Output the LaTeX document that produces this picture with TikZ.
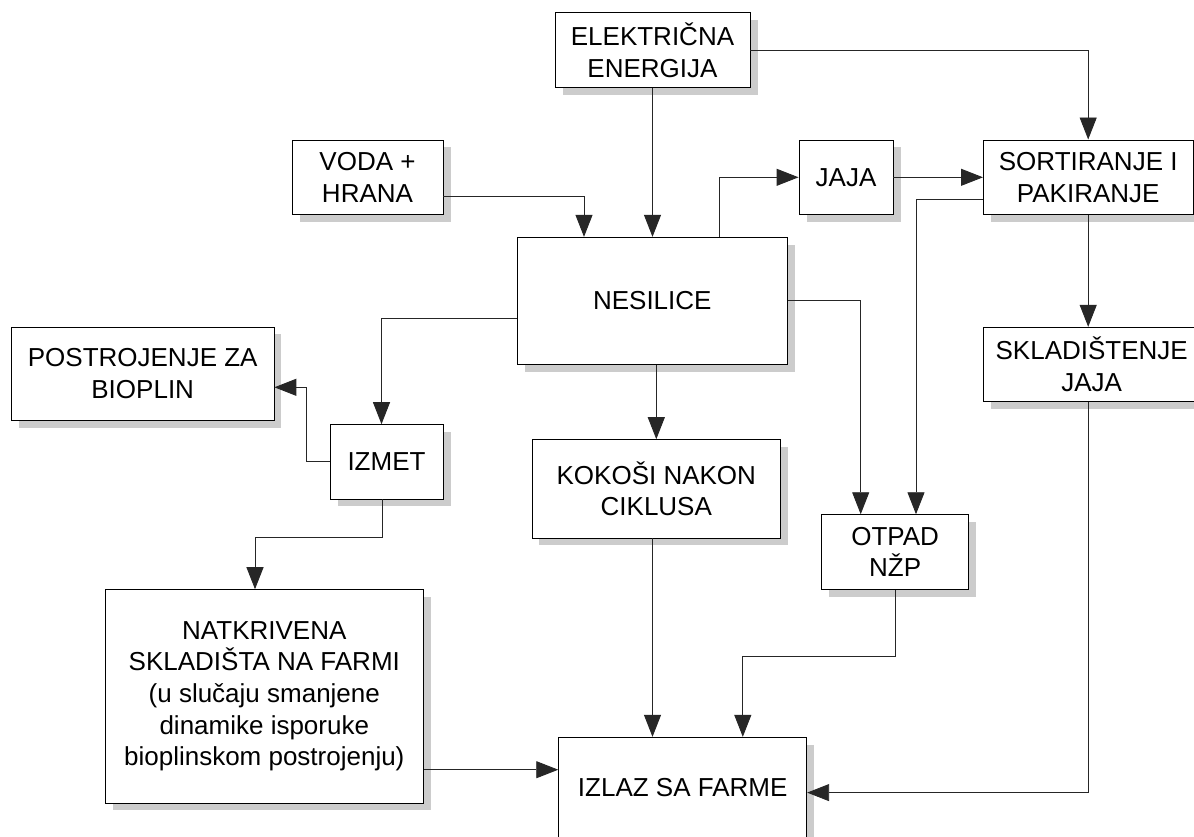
\documentclass[tikz,border=0pt]{standalone}
\usepackage{fontspec}
\setmainfont{Liberation Sans}
\usetikzlibrary{arrows.meta,shadows}
\newcommand{\boxfont}{\fontsize{26}{31.7}\selectfont}
\tikzset{
  blk/.style={draw=black, fill=white, line width=0.9pt, align=center, inner sep=0pt,
    font=\boxfont,
    drop shadow={shadow xshift=7.5pt, shadow yshift=-7.5pt, fill=black!20, opacity=1}},
  arr/.style={draw=black!85, line width=0.9pt, -{Triangle[length=22pt,width=17pt]}},
  ln/.style={draw=black!85, line width=0.9pt}
}
\begin{document}
\begin{tikzpicture}[x=1pt,y=1pt]
\clip (0,0) rectangle (1194,-836);
\fill[white] (0,0) rectangle (1194,-836);
% nodes
\node[blk, minimum width=195pt, minimum height=74.6pt] (elek) at (652.5,-50) {ELEKTRIČNA\\ENERGIJA};
\node[blk, minimum width=151pt, minimum height=74.7pt] (voda) at (367.5,-177.3) {VODA +\\HRANA};
\node[blk, minimum width=94pt, minimum height=74.7pt] (jaja) at (846,-177.3) {JAJA};
\node[blk, minimum width=209.5pt, minimum height=74.7pt] (sort) at (1088.2,-177.3) {SORTIRANJE I\\PAKIRANJE};
\node[blk, minimum width=270.6pt, minimum height=127pt] (nes) at (652.3,-300.8) {NESILICE};
\node[blk, minimum width=262.5pt, minimum height=93.7pt] (post) at (142.7,-373.8) {POSTROJENJE ZA\\BIOPLIN};
\node[blk, minimum width=216.5pt, minimum height=74.4pt] (sklad) at (1091.7,-364.5) {SKLADIŠTENJE\\JAJA};
\node[blk, minimum width=113pt, minimum height=74.3pt] (izmet) at (386.5,-461.8) {IZMET};
\node[blk, minimum width=248.7pt, minimum height=98.3pt] (kok) at (656.3,-488.8) {KOKOŠI NAKON\\CIKLUSA};
\node[blk, minimum width=147pt, minimum height=74.6pt] (otpad) at (895.1,-552) {OTPAD\\NŽP};
\node[blk, minimum width=318.6pt, minimum height=213.3pt] (natkr) at (264.3,-696.3) {NATKRIVENA\\SKLADIŠTA NA FARMI\\(u slučaju smanjene\\dinamike isporuke\\bioplinskom postrojenju)};
\node[blk, minimum width=248pt, minimum height=100pt] (izlaz) at (682.7,-787.3) {IZLAZ SA FARME};
% connectors
\draw[arr] (elek.south) -- (elek.south |- nes.north);
\draw[arr] (elek.east) -| (sort.north);
\draw[arr] ([yshift=-18.7pt]voda.east) -| ([xshift=-68.3pt]nes.north);
\draw[arr] ([xshift=67.2pt]nes.north) |- (jaja.west);
\draw[arr] (jaja.east) -- (sort.west);
\draw[arr] ([yshift=-22pt]sort.west) -| ([xshift=20.9pt]otpad.north);
\draw[arr] (sort.south) -- (sort.south |- sklad.north);
\draw[arr] (nes.east) -| ([xshift=-34.4pt]otpad.north);
\draw[arr] ([yshift=-17.5pt]nes.west) -| ([xshift=-5pt]izmet.north);
\draw[arr] (kok.north |- nes.south) -- (kok.north);
\draw[arr] (izmet.west) -- ++(-22.7,0) |- ([yshift=-13.5pt]post.east);
\draw[arr] ([xshift=-4.5pt]izmet.south) -- ++(0,-37.7) -| ([xshift=-9.3pt]natkr.north);
\coordinate (nx) at ([yshift=-73.4pt]natkr.east);
\draw[arr] (nx) -- (nx -| izlaz.west);
\coordinate (kx) at ([xshift=-3.8pt]kok.south);
\draw[arr] (kx) -- (kx |- izlaz.north);
\draw[arr] (otpad.south) -- ++(0,-67) -| ([xshift=60.1pt]izlaz.north);
\draw[arr] ([xshift=-2.9pt]sklad.south) |- ([yshift=-5.3pt]izlaz.east);
\end{tikzpicture}
\end{document}
